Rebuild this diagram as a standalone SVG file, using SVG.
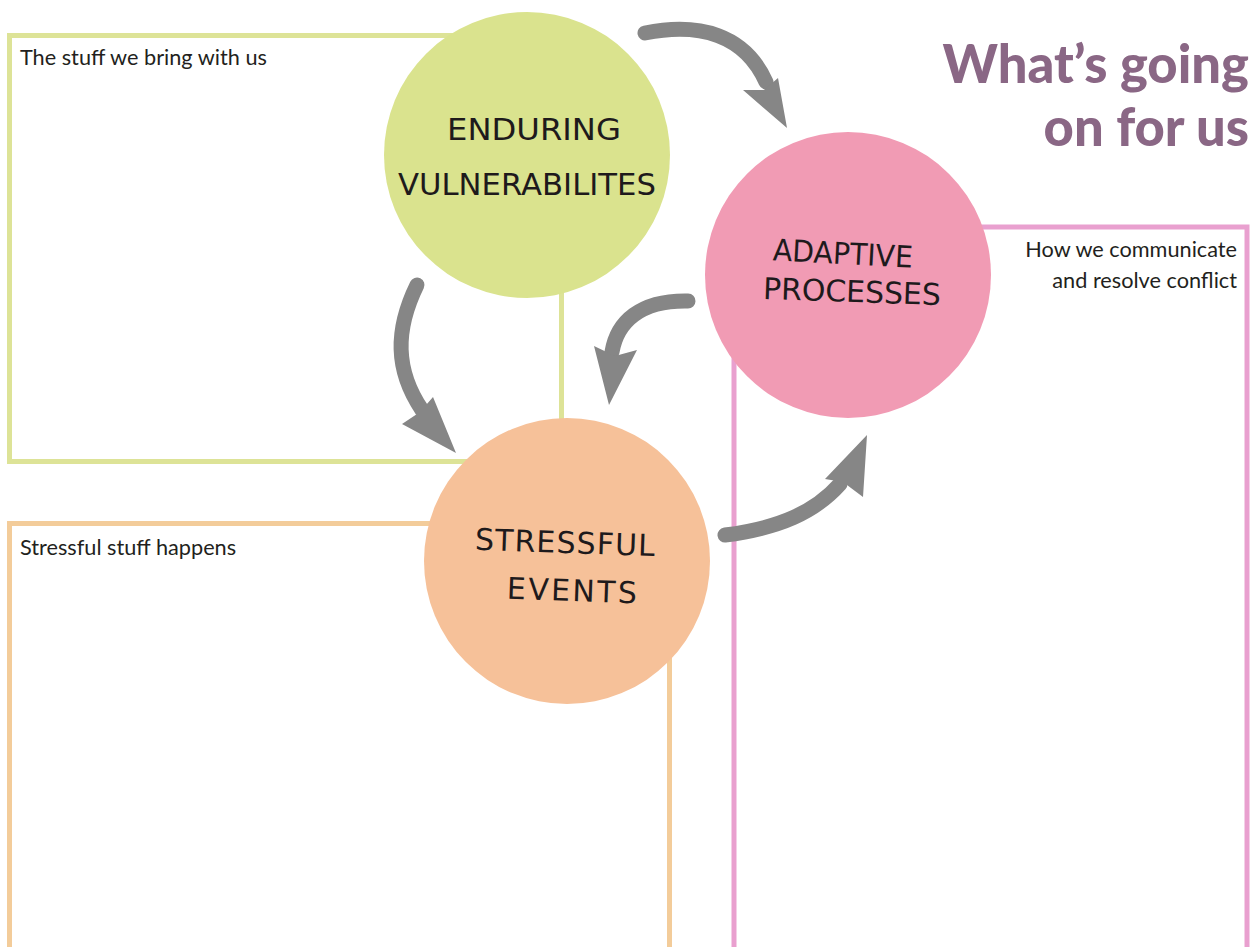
<svg xmlns="http://www.w3.org/2000/svg" width="1253" height="947" viewBox="0 0 1253 947">
<style>
.box{fill:none;stroke-width:5}
.lbl{font-family:"Lato","Noto Sans",sans-serif;font-size:21.7px;fill:#231f20}
.title{font-family:"Lato","Open Sans",sans-serif;font-weight:900;font-size:52.5px;fill:#8a6785}
.hand{font-family:"DejaVu Sans","Liberation Sans",sans-serif;font-size:30px;fill:#1e1a1c;font-weight:normal}
.shaft{fill:none;stroke:#868686;stroke-width:15;stroke-linecap:round}
.head{fill:#868686}
</style>
<rect width="1253" height="947" fill="#fff"/>
<g id="title">
<text class="title" x="1249" y="83" text-anchor="end">What’s going</text>
<text class="title" x="1249" y="146" text-anchor="end">on for us</text>
</g>
<g id="box-enduring">
<rect class="box" x="9.5" y="35.5" width="552" height="426" stroke="#dde397"/>
<text class="lbl" x="20" y="65">The stuff we bring with us</text>
</g>
<g id="box-stressful">
<rect class="box" x="9.5" y="523.5" width="660" height="440" stroke="#f3cc9a"/>
<text class="lbl" x="20" y="555">Stressful stuff happens</text>
</g>
<g id="box-adaptive">
<rect class="box" x="734" y="227" width="513" height="740" stroke="#e9a0cf"/>
<text class="lbl" x="1237" y="257" text-anchor="end">How we communicate</text>
<text class="lbl" x="1237" y="288" text-anchor="end">and resolve conflict</text>
</g>
<g id="node-enduring">
<circle cx="527" cy="155" r="143" fill="#dae38e"/>
<text class="hand" x="447" y="140" textLength="174" lengthAdjust="spacingAndGlyphs">ENDURING</text>
<text class="hand" x="398" y="195" textLength="258" lengthAdjust="spacingAndGlyphs">VULNERABILITES</text>
</g>
<g id="node-adaptive">
<circle cx="848" cy="275" r="143" fill="#f19bb4"/>
<text class="hand" x="773" y="264" textLength="140" lengthAdjust="spacingAndGlyphs" transform="rotate(3 843 252)">ADAPTIVE</text>
<text class="hand" x="763" y="302" textLength="178" lengthAdjust="spacing" transform="rotate(2 851 290)">PROCESSES</text>
</g>
<g id="node-stressful">
<circle cx="567" cy="561" r="143" fill="#f6c199"/>
<text class="hand" x="475" y="553" textLength="180" lengthAdjust="spacing" transform="rotate(2 565 541)">STRESSFUL</text>
<text class="hand" x="507" y="601" textLength="130" lengthAdjust="spacing" transform="rotate(2 571 589)">EVENTS</text>
</g>
<g id="connectors">
<path class="shaft" d="M645,33 C700,22 745,35 766,82"/>
<polygon class="head" points="787,128 743,90 764,90 778,78"/>
<path class="shaft" d="M417,285 C395,330 395,370 422,410"/>
<polygon class="head" points="456,453 402,424 420,412 433,397"/>
<path class="shaft" d="M688,301 C640,300 617,322 612,352"/>
<polygon class="head" points="609,405 594,346 615,356 637,350"/>
<path class="shaft" d="M725,535 C780,528 815,512 840,484"/>
<polygon class="head" points="867,435 825,479 843,482 863,497"/>
</g>
</svg>
